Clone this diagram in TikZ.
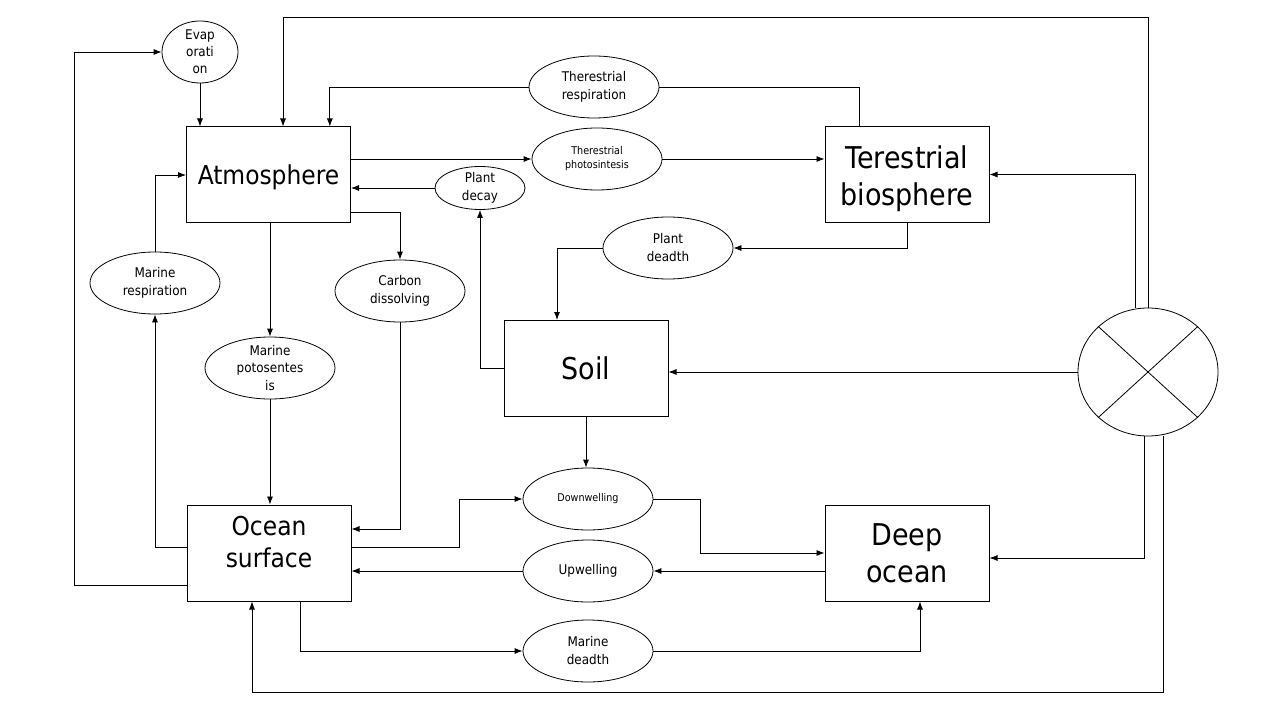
\documentclass[tikz,border=0pt]{standalone}
\usepackage{fontspec}
\setmainfont{DejaVu Sans Condensed}
\usetikzlibrary{shapes,arrows.meta,positioning}
\tikzstyle{box} = [draw, rectangle, fill=white, line width=0.75pt, minimum width=123pt, minimum height=72pt, inner sep=0pt, align=center, font=\fontsize{19.5}{24}\selectfont]
\tikzstyle{bigbox} = [box, font=\fontsize{22.5}{27.75}\selectfont]
\tikzstyle{proc} = [draw, ellipse, line width=0.6pt, minimum width=97.5pt, minimum height=46.5pt, inner sep=0pt, align=center, font=\fontsize{10}{13.5}\selectfont]
\tikzstyle{smallproc} = [proc, font=\fontsize{8}{10.5}\selectfont]
\tikzstyle{line} = [draw, line width=0.6pt, -{Latex[length=6pt,width=4.5pt]}]

\begin{document}
\begin{tikzpicture}[x=0.75pt, y=-0.75pt]
	\useasboundingbox (0,0) rectangle (1280,720);

	\node [box] (atm) at (268.5,175) {\rule{0pt}{19pt}Atmosphere};
	\node [bigbox] (terr) at (907,174.5) {\rule{0pt}{24pt}Terestrial\\biosphere};
	\node [bigbox] (soil) at (586,368.5) {Soil};
	\node [box] (ocean) at (269,553) {Ocean\\surface\rule[-16pt]{0pt}{0pt}};
	\node [bigbox] (deep) at (907,553) {Deep\\ocean};
	\node [draw, ellipse, line width=0.6pt, minimum width=105pt, minimum height=96pt] (mix) at (1148,372) {};
	\draw [line width=0.6pt] (mix.north west) -- (mix.south east);
	\draw [line width=0.6pt] (mix.north east) -- (mix.south west);

	\node [proc, minimum width=57pt, inner sep=-4pt, font=\fontsize{10}{12.75}\selectfont] (evap) at (200,52) {Evap\\orati\\on};
	\node [proc] (tresp) at (594,87) {Therestrial\\respiration};
	\node [smallproc] (tphot) at (597,159) {Therestrial\\photosintesis};
	\node [proc, minimum width=67.5pt, minimum height=32.25pt, inner sep=-1pt] (decay) at (480,188) {Plant\\decay};
	\node [proc] (pdeath) at (668,248) {Plant\\deadth};
	\node [proc] (mresp) at (155,283) {Marine\\respiration};
	\node [proc] (cdiss) at (400,291) {Carbon\\dissolving};
	\node [proc, inner sep=-4pt, font=\fontsize{10}{13}\selectfont] (mphot) at (270,368) {Marine\\potosentes\\is};
	\node [smallproc] (down) at (588,499) {Downwelling};
	\node [proc, below of=down, node distance=54pt] (up) {Upwelling};
	\node [proc, below of=up, node distance=60pt] (mdeath) {Marine\\deadth};

	% atmosphere side
	\path [line] ([yshift=-24pt]ocean.west) -- ++(-112,0) |- (evap.west);
	\path [line] (evap) -- (evap |- atm.north);
	\path [line] (mix.north) -- ++(0,-290) -| ([xshift=10.9pt]atm.north);
	\draw [line width=0.6pt] ([xshift=-36pt]terr.north) |- (tresp.east);
	\path [line] (tresp.west) -| ([xshift=46pt]atm.north);
	\path [line] (tphot.west -| atm.east) -- (tphot.west);
	\path [line] (tphot.east) -- (tphot.east -| terr.west);
	\path [line] (decay.west) -- (decay.west -| atm.east);
	\path [line] (soil.west) -| (decay.south);
	\path [line] ([yshift=-27.75pt]atm.east) -| (cdiss.north);
	\path [line] (cdiss.south) |- ([yshift=18pt]ocean.east);
	\path [line] (mphot.north |- atm.south) -- (mphot.north);
	\path [line] (mphot.south) -- (mphot.south |- ocean.north);
	\path [line] ([yshift=4.5pt]ocean.west) -| (mresp.south);
	\path [line] (mresp.north) |- (atm.west);

	% land side
	\path [line] ([xshift=-9.75pt]mix.north) |- (terr.east);
	\path [line] (terr.south) |- (pdeath.east);
	\path [line] (pdeath.west) -| ([xshift=-21.75pt]soil.north);
	\path [line] (mix.west) -- (mix.west -| soil.east);
	\path [line] (soil.south) -- (soil.south |- down.north);

	% ocean side
	\path [line] ([yshift=4.5pt]ocean.east) -- ++(108,0) |- (down.west);
	\path [line] (down.east) -- ++(47,0) |- (deep.west);
	\path [line] (up.east -| deep.west) -- (up.east);
	\path [line] (up.west) -- (up.west -| ocean.east);
	\path [line] ([xshift=23.25pt]ocean.south) |- (mdeath.west);
	\path [line] (mdeath.east) -| ([xshift=9.75pt]deep.south);
	\path [line] ([xshift=-3pt]mix.south) |- ([yshift=-3.75pt]deep.east);
	\path [line] ([xshift=11.25pt]mix.south) -- ++(0,256) -| ([xshift=-12.75pt]ocean.south);
\end{tikzpicture}
\end{document}
